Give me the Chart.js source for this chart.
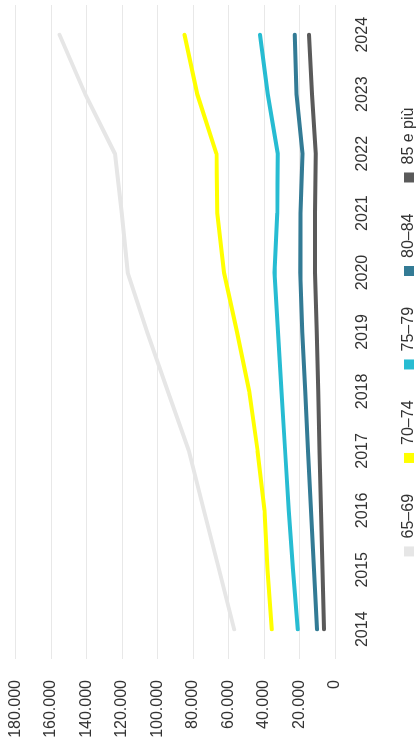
<!DOCTYPE html>
<html lang="it">
<head>
<meta charset="utf-8">
<title>Popolazione anziana per classe di età</title>
<script src="https://cdn.jsdelivr.net/npm/chart.js@4.4.1/dist/chart.umd.min.js"></script>
<style>
    html, body { margin: 0; padding: 0; background: #fff; overflow: hidden; }
    #contenitore {
        position: absolute;
        left: 0;
        top: 0;
        width: 755px;
        height: 417px;
        transform-origin: 0 0;
        transform: translateY(755px) rotate(-90deg);
    }
</style>
</head>
<body>
<div id="contenitore">
    <canvas id="graficoEta" width="755" height="417"></canvas>
</div>
<script>
const anni = ['2014', '2015', '2016', '2017', '2018', '2019', '2020', '2021', '2022', '2023', '2024'];

const eta65_69 = [56800, 65300, 73900, 82300, 94100, 105900, 116800, 120200, 124000, 140700, 155200];
const eta70_74 = [35600, 38000, 39700, 43600, 48300, 55200, 62500, 66300, 66800, 77600, 84800];
const eta75_79 = [21000, 23600, 26100, 28100, 30100, 32100, 34100, 32500, 32200, 37900, 42200];
const eta80_84 = [10100, 11800, 13500, 15200, 16800, 18500, 19600, 19500, 18300, 21700, 22700];
const eta85piu = [6200, 7000, 7900, 8700, 9500, 10300, 11200, 11200, 10800, 12900, 14600];

const etichette = ['65–69', '70–74', '75–79', '80–84', '85 e più'];
const colori = ['#e6e6e6', '#ffff00', '#27bcd2', '#337b95', '#5a5a5a'];

const testo = '#333333';
const font = { family: "'Liberation Sans', Arial, sans-serif", size: 16 };

function formatoMigliaia(valore) {
    return String(valore).replace(/\B(?=(\d{3})+(?!\d))/g, '.');
}

const serie = [eta65_69, eta70_74, eta75_79, eta80_84, eta85piu];

new Chart(document.getElementById('graficoEta'), {
    type: 'line',
    data: {
        labels: anni,
        datasets: serie.map((valori, i) => ({
            label: etichette[i],
            data: valori,
            borderColor: colori[i],
            backgroundColor: colori[i],
            borderWidth: 4,
            borderCapStyle: 'round',
            borderJoinStyle: 'round',
            pointRadius: 0,
            tension: 0
        }))
    },
    options: {
        responsive: false,
        animation: false,
        layout: { padding: { left: 17, right: 5, top: 15.5, bottom: 0 } },
        plugins: {
            tooltip: { enabled: false },
            legend: {
                position: 'bottom',
                fullSize: false,
                maxHeight: 47,
                labels: {
                    boxWidth: 10,
                    boxHeight: 10,
                    padding: 31,
                    color: testo,
                    font: font,
                    generateLabels: chart => chart.data.datasets.map((ds, i) => ({
                        text: ds.label,
                        fillStyle: ds.borderColor,
                        strokeStyle: ds.borderColor,
                        lineWidth: 0,
                        fontColor: testo,
                        hidden: false,
                        datasetIndex: i
                    }))
                }
            }
        },
        scales: {
            x: {
                offset: true,
                grid: { color: 'transparent', tickColor: 'transparent', drawTicks: true, tickLength: 16 },
                border: { display: false },
                ticks: { color: testo, font: font, padding: 2, maxRotation: 0 },
                afterFit: scala => { scala.height = 35; }
            },
            y: {
                min: 0,
                max: 180000,
                grid: { color: '#e8e8e8', lineWidth: 1, drawTicks: true, tickLength: 18, tickColor: 'transparent' },
                border: { display: false },
                ticks: {
                    stepSize: 20000,
                    color: testo,
                    font: font,
                    padding: 3,
                    callback: v => formatoMigliaia(v)
                },
                afterFit: scala => { scala.width = 79; }
            }
        }
    }
});
</script>
</body>
</html>
